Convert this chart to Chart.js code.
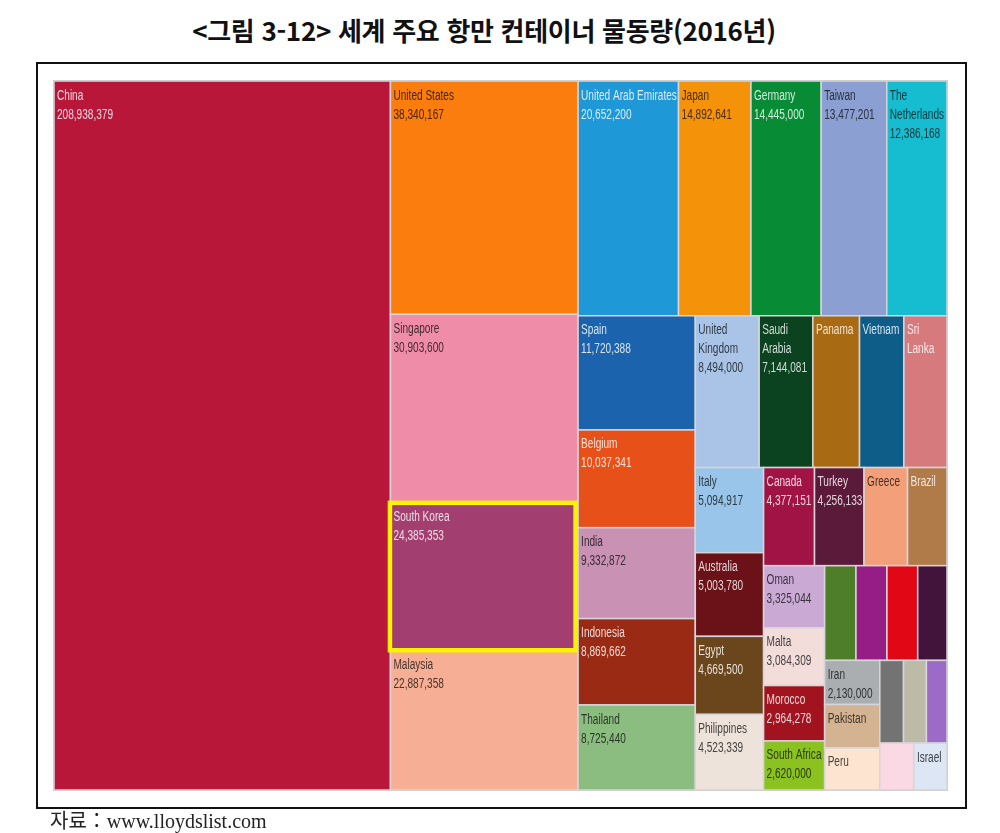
<!DOCTYPE html>
<html lang="ko">
<head>
<meta charset="utf-8">
<script src="https://cdn.jsdelivr.net/npm/chart.js@4.4.1/dist/chart.umd.min.js"></script>
<style>
  html, body { margin: 0; padding: 0; background: #fff; }
  #page { position: relative; width: 1000px; height: 833px; overflow: hidden; }
  #chart { position: absolute; left: 0; top: 0; }
  #title {
    position: absolute; left: -16px; top: 14px; width: 1000px; text-align: center;
    font: bold 26px "Noto Sans CJK KR", sans-serif; line-height: 32px; color: #111;
    letter-spacing: -0.3px;
  }
  #frame {
    position: absolute; left: 36px; top: 62px; width: 931px; height: 747px;
    border: 2px solid #111; box-sizing: border-box; pointer-events: none;
  }
  #source {
    position: absolute; left: 50px; top: 810px;
    font: 20px "Liberation Serif", "Noto Sans CJK KR", serif; line-height: 22px; color: #222;
  }
</style>
</head>
<body>
<div id="page">
  <div id="title">&lt;그림 3-12&gt; 세계 주요 항만 컨테이너 물동량(2016년)</div>
  <div id="frame"></div>
  <canvas id="chart" width="1000" height="833"></canvas>
  <div id="source">자료：www.lloydslist.com</div>
</div>

<script>
// ===== container throughput by country, 2016 (TEU) =====
// unnamed entries are the small cells that carry no label in the source
const countries = [
  'China', 'United States', 'Singapore', 'South Korea', 'Malaysia',
  'United Arab Emirates', 'Japan', 'Germany', 'Taiwan', 'The Netherlands',
  'Spain', 'Belgium', 'India', 'Indonesia', 'Thailand',
  'United Kingdom', 'Saudi Arabia', 'Panama', 'Vietnam', 'Sri Lanka',
  'Italy', 'Australia', 'Egypt', 'Philippines',
  'Canada', 'Turkey', 'Greece', 'Brazil',
  'Oman', 'Malta', 'Morocco', 'South Africa',
  '', '', '', '',
  'Iran', 'Pakistan', 'Peru',
  '', '', '', '', 'Israel'
];

const teu = [
  208938379, 38340167, 30903600, 24385353, 22887358,
  20652200, 14892641, 14445000, 13477201, 12386168,
  11720388, 10037341, 9332872, 8869662, 8725440,
  8494000, 7144081, 6200000, 5900000, 5730000,
  5094917, 5003780, 4669500, 4523339,
  4377151, 4256133, 3740000, 3390000,
  3325044, 3084309, 2964278, 2620000,
  2600000, 2570000, 2550000, 2430000,
  2130000, 2100000, 2030000,
  1720000, 1660000, 1490000, 1400000, 1360000
];

const cellColors = [
  '#b9173a', '#fa7d0e', '#ef8da8', '#a23e70', '#f6ae94',
  '#1e98d6', '#f4930a', '#078b35', '#8b9fd2', '#16bdd0',
  '#1b63ad', '#e8501a', '#c991b3', '#9a2a13', '#8cbd80',
  '#a9c4e7', '#0b4320', '#a86b13', '#0e5d88', '#d77a7d',
  '#98c5e9', '#6b1118', '#6b461c', '#eee3db',
  '#a11345', '#5c1a3b', '#f3a07a', '#b07b49',
  '#caaad5', '#f2dddb', '#a1131f', '#8cc220',
  '#4f7e2b', '#961c86', '#e20714', '#42143b',
  '#aaaeb0', '#d4b393', '#fce4d1',
  '#737373', '#bdbaa8', '#9b6bc7', '#fad8e4', '#dce6f5'
];

// cells that show only the country name
const nameOnly = ['Panama', 'Vietnam', 'Sri Lanka', 'Greece', 'Brazil', 'Pakistan', 'Peru', 'Israel'];
const highlighted = 'South Korea';

// the source map was squarified on a wider canvas and then stretched to this frame
const LAYOUT_W = 2.05;
const LAYOUT_H = 1;
const TEXT_SQUEEZE = 0.72;

// squarified treemap (golden ratio target, same rule as d3.treemapSquarify)
function squarify(values, x0, y0, x1, y1) {
  const ratio = (1 + Math.sqrt(5)) / 2;
  const out = [];
  const n = values.length;
  let value = values.reduce((a, b) => a + b, 0);
  let i0 = 0, i1 = 0;

  while (i0 < n) {
    const dx = x1 - x0, dy = y1 - y0;
    let sum = values[i1++];
    let minV = sum, maxV = sum;
    const alpha = Math.max(dy / dx, dx / dy) / (value * ratio);
    let beta = sum * sum * alpha;
    let minRatio = Math.max(maxV / beta, beta / minV);

    for (; i1 < n; ++i1) {
      const v = values[i1];
      sum += v;
      if (v < minV) minV = v;
      if (v > maxV) maxV = v;
      beta = sum * sum * alpha;
      const newRatio = Math.max(maxV / beta, beta / minV);
      if (newRatio > minRatio) { sum -= v; break; }
      minRatio = newRatio;
    }

    if (dx < dy) {
      // row across the top
      const yy = y0 + dy * sum / value;
      let x = x0;
      for (let i = i0; i < i1; i++) {
        const w = dx * values[i] / sum;
        out[i] = { x0: x, x1: x + w, y0: y0, y1: yy };
        x += w;
      }
      y0 = yy;
    } else {
      // column down the left side
      const xx = x0 + dx * sum / value;
      let y = y0;
      for (let i = i0; i < i1; i++) {
        const h = dy * values[i] / sum;
        out[i] = { x0: x0, x1: xx, y0: y, y1: y + h };
        y += h;
      }
      x0 = xx;
    }
    value -= sum;
    i0 = i1;
  }
  return out;
}

const cells = squarify(teu, 0, 0, LAYOUT_W, LAYOUT_H);

function hexToRgb(hex) {
  const v = parseInt(hex.slice(1), 16);
  return [(v >> 16) & 255, (v >> 8) & 255, v & 255];
}

function labelColor(hex) {
  const rgb = hexToRgb(hex);
  const lin = rgb.map(c => {
    c /= 255;
    return c <= 0.03928 ? c / 12.92 : Math.pow((c + 0.055) / 1.055, 2.4);
  });
  const lum = 0.2126 * lin[0] + 0.7152 * lin[1] + 0.0722 * lin[2];
  const mixed = lum < 0.32
    ? rgb.map(c => Math.round(c + (255 - c) * 0.82))
    : rgb.map(c => Math.round(c * 0.3));
  return `rgb(${mixed[0]},${mixed[1]},${mixed[2]})`;
}

function wrapWords(ctx, text, maxWidth) {
  const words = text.split(' ');
  const lines = [];
  let line = '';
  for (const word of words) {
    const test = line ? line + ' ' + word : word;
    if (ctx.measureText(test).width * TEXT_SQUEEZE <= maxWidth) {
      line = test;
    } else {
      if (line) lines.push(line);
      line = word;
    }
  }
  if (line) lines.push(line);
  return lines;
}

const treemapPlugin = {
  id: 'treemapCells',
  afterDatasetsDraw(chart) {
    const { ctx, scales: { x, y }, chartArea } = chart;
    ctx.save();
    ctx.font = '14px "Liberation Sans", Arial, sans-serif';
    ctx.textBaseline = 'alphabetic';

    let box = null;
    cells.forEach((c, i) => {
      const left = x.getPixelForValue(c.x0);
      const right = x.getPixelForValue(c.x1);
      const top = y.getPixelForValue(c.y0);
      const bottom = y.getPixelForValue(c.y1);
      const w = right - left, h = bottom - top;

      ctx.fillStyle = cellColors[i];
      ctx.fillRect(left, top, w, h);
      ctx.strokeStyle = '#d6d6da';
      ctx.lineWidth = 1.5;
      ctx.strokeRect(left, top, w, h);

      if (countries[i] === highlighted) box = { left, top, w, h };

      const name = countries[i];
      if (!name) return;
      const lines = wrapWords(ctx, name, w - 4);
      if (!nameOnly.includes(name)) lines.push(teu[i].toLocaleString('en-US'));

      ctx.save();
      ctx.beginPath();
      ctx.rect(left, top, w, h);
      ctx.clip();
      ctx.fillStyle = labelColor(cellColors[i]);
      lines.forEach((line, k) => {
        const base = top + 18.5 + k * 19;
        if (base + 3 > bottom) return;
        ctx.save();
        ctx.translate(left + 3, base);
        ctx.scale(TEXT_SQUEEZE, 1);
        ctx.fillText(line, 0, 0);
        ctx.restore();
      });
      ctx.restore();
    });

    // light outline round the whole map
    ctx.strokeStyle = '#d0d0d0';
    ctx.lineWidth = 1;
    ctx.strokeRect(chartArea.left - 0.5, chartArea.top - 0.5,
      chartArea.right - chartArea.left + 1, chartArea.bottom - chartArea.top + 1);

    if (box) {
      ctx.strokeStyle = '#fff200';
      ctx.lineWidth = 4.5;
      ctx.strokeRect(box.left - 0.5, box.top + 0.5, box.w - 2, box.h - 1);
    }
    ctx.restore();
  }
};

new Chart(document.getElementById('chart'), {
  type: 'scatter',
  data: {
    datasets: [{
      data: cells.map(c => ({ x: (c.x0 + c.x1) / 2, y: (c.y0 + c.y1) / 2 })),
      pointRadius: 0,
      pointHoverRadius: 0
    }]
  },
  options: {
    responsive: false,
    animation: false,
    devicePixelRatio: 1,
    layout: { padding: { left: 54, top: 81, right: 53, bottom: 43 } },
    scales: {
      x: { type: 'linear', min: 0, max: LAYOUT_W, display: false },
      y: { type: 'linear', min: 0, max: LAYOUT_H, reverse: true, display: false }
    },
    plugins: {
      legend: { display: false },
      tooltip: { enabled: false }
    }
  },
  plugins: [treemapPlugin]
});
</script>
</body>
</html>
